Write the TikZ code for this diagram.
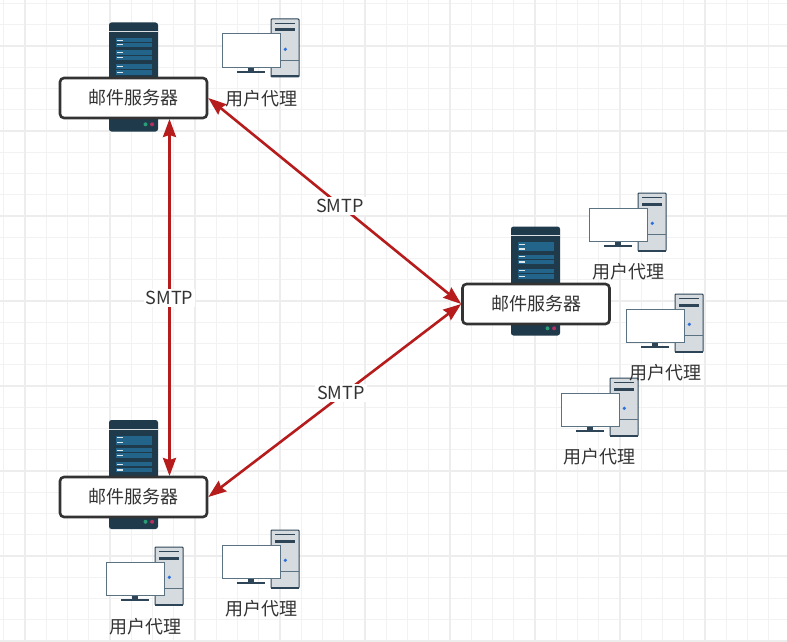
\documentclass[tikz,border=0pt]{standalone}
\usepackage{fontspec}
\setmainfont{Noto Sans CJK SC}
\usetikzlibrary{arrows.meta}

\definecolor{rackdark}{HTML}{1F3A4B}
\definecolor{rackrow}{HTML}{23648A}
\definecolor{rackgreen}{HTML}{2A9D76}
\definecolor{rackpink}{HTML}{B5305F}
\definecolor{towerfill}{HTML}{D6DBE0}
\definecolor{towerline}{HTML}{2E4558}
\definecolor{screenline}{HTML}{5B7282}
\definecolor{powerblue}{HTML}{2A6FDB}
\definecolor{linkred}{HTML}{B71C1C}
\definecolor{inkgrey}{HTML}{333333}

\tikzset{
	mailbox/.style={draw=inkgrey, line width=2.6pt, fill=white, rounded corners=4pt, minimum width=147pt, minimum height=40pt, outer sep=1.3pt, inner sep=0pt, text=inkgrey, font=\fontsize{18pt}{20pt}\selectfont},
	agentlabel/.style={inner sep=0pt, text=inkgrey, font=\fontsize{18pt}{20pt}\selectfont},
	linklabel/.style={fill=white, inner sep=2pt, text=inkgrey, font=\fontsize{18pt}{20pt}\selectfont},
	smtplink/.style={draw=linkred, line width=2.6pt, {Stealth[length=18pt,width=13pt,inset=2pt]}-{Stealth[length=18pt,width=13pt,inset=2pt]}},
	pics/serverrack/.style={code={
		% origin is the middle of the rack
		\fill[rackdark, rounded corners=2.5pt] (-24.5,-54.5) rectangle (24.5,54.5);
		\fill[white!85!rackdark] (-24.5,-46) rectangle (24.5,-45);
		\foreach \rowtop in {-38.8,-34.2,-26.5,-21.2,-12.5,-6.7}{
			\fill[rackrow] (-18,\rowtop) rectangle (18,\rowtop+4.3);
			\fill[white!85!rackrow] (-17,\rowtop+1.6) rectangle (-10.4,\rowtop+2.7);
		}
		\fill[rackgreen] (12,47.3) circle (2);
		\fill[rackpink] (18.6,47.3) circle (2);
	}},
	pics/useragent/.style={code={
		% origin is the top left of the tower
		\fill[towerfill, draw=towerline, line width=1pt, rounded corners=0.8pt] (0,0) rectangle (28,58);
		\fill[towerline] (0,56.5) rectangle (28,58.5);
		\draw[towerline, line width=1pt] (4,4.5) -- (24,4.5);
		\fill[towerline] (4,9.5) rectangle (24,12.5);
		\draw[screenline, line width=0.8pt] (0,41) -- (28,41);
		\fill[powerblue] (14.3,30.3) circle (1.8);
		\fill[towerline] (-23.5,52.2) rectangle (-17,48);
		\fill[towerline] (-34,52.4) rectangle (-6.5,54);
		\fill[white, draw=screenline, line width=1pt] (-48.5,15) rectangle (9,48.3);
	}}
}

\begin{document}
\begin{tikzpicture}[x=1pt, y=-1pt]

	\useasboundingbox (0,0) rectangle (787,642);
	\fill[white] (0,0) rectangle (787,642);

	% background grid
	\foreach \gridstep in {0,...,36}{
		\draw[black!5, line width=1pt] (3.75+21.25*\gridstep,0) -- (3.75+21.25*\gridstep,642);
	}
	\foreach \gridstep in {0,...,30}{
		\draw[black!5, line width=1pt] (0,3.5+21.25*\gridstep) -- (787,3.5+21.25*\gridstep);
	}
	\foreach \gridstep in {0,...,8}{
		\draw[black!7, line width=1.5pt] (25+85*\gridstep,0) -- (25+85*\gridstep,642);
	}
	\foreach \gridstep in {0,...,7}{
		\draw[black!7, line width=1.5pt] (0,46+85*\gridstep) -- (787,46+85*\gridstep);
	}

	% mail servers
	\pic at (133.5,77) {serverrack};
	\pic at (535.5,281) {serverrack};
	\pic at (133.5,474.5) {serverrack};

	\node[mailbox] (mailtop) at (133.5,98) {邮件服务器};
	\node[mailbox] (mailright) at (536,304) {邮件服务器};
	\node[mailbox] (mailbottom) at (133.5,497) {邮件服务器};

	% user agents
	\pic at (271,19) {useragent};
	\pic at (638,193) {useragent};
	\pic at (675,294) {useragent};
	\pic at (610,378) {useragent};
	\pic at (155,547) {useragent};
	\pic at (271,530) {useragent};

	\node[agentlabel] (agentone) at (261,99) {用户代理};
	\node[agentlabel] (agenttwo) at (628,272) {用户代理};
	\node[agentlabel] (agentthree) at (665,373) {用户代理};
	\node[agentlabel] (agentfour) at (599,457) {用户代理};
	\node[agentlabel] (agentfive) at (145,627) {用户代理};
	\node[agentlabel] (agentsix) at (261,609) {用户代理};

	% links between the servers
	\coordinate (mailtopfoot) at (169.5,119);
	\coordinate (mailbottomhead) at (169.5,476);

	\draw[smtplink] (mailtop.east) -- (mailright.west) node[linklabel, pos=0.52, yshift=-1pt] (smtpupper) {SMTP};
	\draw[smtplink] (mailright.west) -- (mailbottom.east) node[linklabel, pos=0.47, xshift=-1.5pt, yshift=1.5pt] (smtplower) {SMTP};
	\draw[smtplink] (mailtopfoot) -- (mailbottomhead) node[linklabel, pos=0.5, yshift=-0.5pt] (smtpleft) {SMTP};

\end{tikzpicture}
\end{document}
